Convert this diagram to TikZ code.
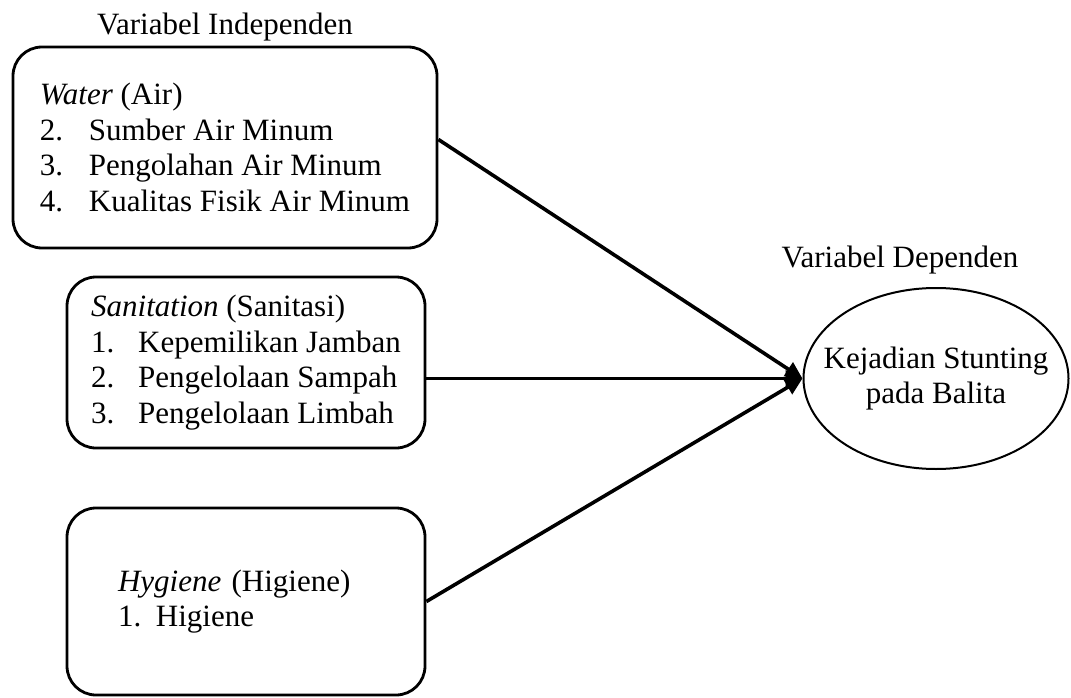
\documentclass[tikz,border=0pt]{standalone}
\usepackage{fontspec}
\setmainfont{Liberation Serif}
\usetikzlibrary{arrows.meta,shapes.geometric}
\newcommand{\diagfont}{\fontsize{31}{35.5}\selectfont}
\newcommand{\numitem}[2][49pt]{\makebox[#1][l]{#2}}
\begin{document}
\begin{tikzpicture}[x=1pt, y=-1pt, font=\diagfont,
  varbox/.style={draw, rectangle, rounded corners=29pt, line width=2.8pt, align=left, inner sep=0pt},
  link/.style={line width=3.6pt, -{Triangle[length=17pt,width=16pt]}}]
\useasboundingbox (0,0) rectangle (1071,698);
\node (water)[varbox, minimum width=424pt, minimum height=201pt] at (225,147.5) {\textit{Water} (Air)\\ \numitem{2.}Sumber Air Minum\\ \numitem{3.}Pengolahan Air Minum\\ \numitem{4.}Kualitas Fisik Air Minum};
\node (sanit)[varbox, minimum width=358pt, minimum height=171pt] at (246,362.5) {\textit{Sanitation} (Sanitasi)\\ \numitem[47pt]{1.}Kepemilikan Jamban\\ \numitem[47pt]{2.}Pengelolaan Sampah\\ \numitem[47pt]{3.}Pengelolaan Limbah};
\node (hyg)[varbox, text width=256pt, inner xsep=51pt, minimum height=187pt] at (246,601.5) {\textit{Hygiene} (Higiene)\\ \numitem[38pt]{1.}Higiene};
\node (stunting)[draw, ellipse, line width=2pt, minimum width=265pt, minimum height=181pt, inner xsep=-24pt, inner ysep=0pt, align=center] at (936,378.5) {Kejadian Stunting\\pada Balita};
\node (indep) [above of=water, node distance=120pt] {Variabel Independen};
\node (dep) [above of=stunting, node distance=118pt, xshift=-36pt] {Variabel Dependen};
\draw [link] ([yshift=8pt]water.east) -- (stunting.west);
\draw [link] (sanit.east |- stunting.west) -- (stunting.west);
\draw [link] (hyg.east) -- (stunting.west);
\end{tikzpicture}
\end{document}
